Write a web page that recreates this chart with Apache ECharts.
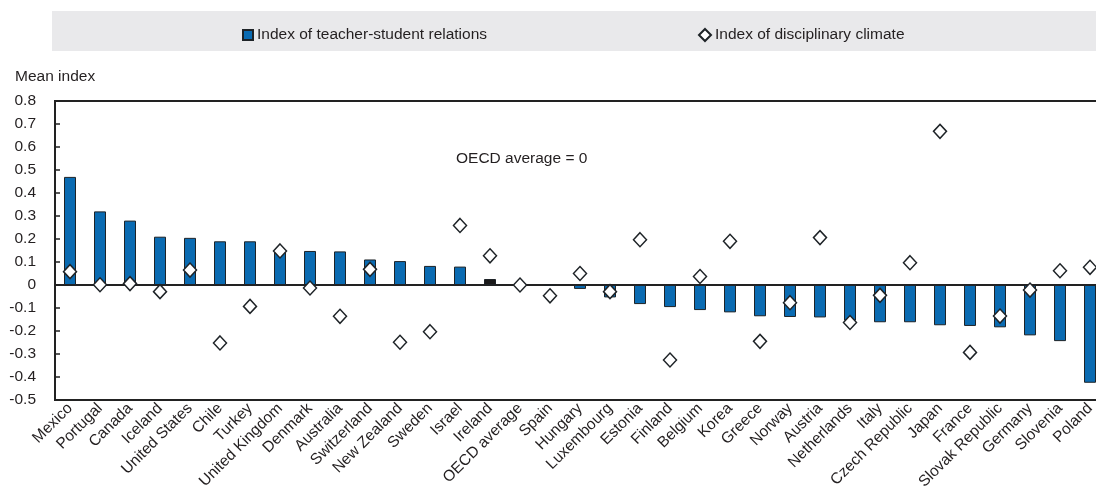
<!DOCTYPE html>
<html>
<head>
<meta charset="utf-8">
<script src="https://cdn.jsdelivr.net/npm/echarts@6/dist/echarts.min.js"></script>
<style>
  html, body { margin: 0; padding: 0; background: #fff; }
  #show_picture { width: 1096px; height: 498px; }
</style>
</head>
<body>
<div id="show_picture"></div>
<script>
// categories, left to right
const countries = ['Mexico', 'Portugal', 'Canada', 'Iceland', 'United States', 'Chile', 'Turkey',
    'United Kingdom', 'Denmark', 'Australia', 'Switzerland', 'New Zealand', 'Sweden', 'Israel',
    'Ireland', 'OECD average', 'Spain', 'Hungary', 'Luxembourg', 'Estonia', 'Finland', 'Belgium',
    'Korea', 'Greece', 'Norway', 'Austria', 'Netherlands', 'Italy', 'Czech Republic', 'Japan',
    'France', 'Slovak Republic', 'Germany', 'Slovenia', 'Poland'];

// bars: index of teacher-student relations
const relations = [0.47, 0.32, 0.28, 0.21, 0.205, 0.19, 0.19, 0.145, 0.148, 0.146, 0.111,
    0.104, 0.083, 0.080, 0.026, 0, -0.003, -0.017, -0.054, -0.083, -0.096, -0.109, -0.119,
    -0.136, -0.139, -0.141, -0.155, -0.162, -0.162, -0.175, -0.178, -0.184, -0.219, -0.244, -0.425];

// diamonds: index of disciplinary climate
const climate = [0.058, 0.001, 0.006, -0.029, 0.065, -0.252, -0.093, 0.148, -0.013, -0.136, 0.068,
    -0.249, -0.203, 0.259, 0.127, 0, -0.047, 0.05, -0.029, 0.197, -0.326, 0.037, 0.19,
    -0.245, -0.077, 0.206, -0.163, -0.045, 0.097, 0.668, -0.293, -0.135, -0.022, 0.062, 0.077];

const blackBar = 'Ireland';

const font = '"Liberation Sans", Arial, sans-serif';
const fs = 15.5;
const txt = '#231f20';

let myChart = echarts.init(document.getElementById('show_picture'));

let barData = relations.map((v, i) => ({
    value: v,
    itemStyle: countries[i] === blackBar ? { color: '#1a1a1a' } : undefined
}));

let option = {
    animation: false,
    textStyle: { fontFamily: font, color: txt },
    title: {
        text: 'Mean index',
        left: 10, top: 64,
        textStyle: { fontFamily: font, fontSize: fs, fontWeight: 'normal', color: txt }
    },
    graphic: [
        { type: 'rect', left: 52, top: 11, z: -10,
          shape: { width: 1044, height: 40 }, style: { fill: '#e9e9eb' } },
        { type: 'text', left: 456, top: 151,
          style: { text: 'OECD average = 0', fontFamily: font, fontSize: fs, fill: txt } }
    ],
    legend: [
        {
            data: ['Index of teacher-student relations'],
            left: 237, top: 22, itemWidth: 10, itemHeight: 10, itemGap: 4,
            icon: 'rect',
            textStyle: { fontFamily: font, fontSize: fs, color: txt, padding: [0, 0, 0, -1] }
        },
        {
            data: ['Index of disciplinary climate'],
            left: 693, top: 22, itemWidth: 12, itemHeight: 12, itemGap: 4,
            textStyle: { fontFamily: font, fontSize: fs, color: txt, padding: [0, 0, 0, -1] }
        }
    ],
    grid: {
        left: 55, top: 101, width: 1050, height: 299,
        outerBoundsMode: 'none',
        show: true, borderColor: '#222', borderWidth: 2, backgroundColor: 'transparent'
    },
    xAxis: [
        {
            type: 'category',
            data: countries,
            position: 'bottom',
            axisLine: { show: false, onZero: false },
            axisTick: { show: false },
            axisLabel: {
                interval: 0, rotate: 45, margin: 6,
                fontFamily: font, fontSize: fs, color: txt
            }
        },
        {
            type: 'category',
            data: countries,
            position: 'bottom',
            axisLine: { onZero: true, lineStyle: { color: '#222', width: 2 } },
            axisTick: { inside: true, length: 6, interval: 0, lineStyle: { color: '#222', width: 1.5 } },
            axisLabel: { show: false }
        }
    ],
    yAxis: {
        type: 'value',
        min: -0.5, max: 0.8, interval: 0.1,
        axisLine: { show: true, lineStyle: { color: '#222', width: 2 } },
        axisTick: { show: true, inside: true, length: 5, lineStyle: { color: '#222', width: 1.5 } },
        splitLine: { show: false },
        axisLabel: {
            margin: 19, fontFamily: font, fontSize: fs, color: txt,
            formatter: v => String(+v.toFixed(1))
        }
    },
    series: [
        {
            name: 'Index of teacher-student relations',
            type: 'bar',
            data: barData,
            barWidth: 12,
            itemStyle: { color: '#0a6bb2', borderColor: '#1e2327', borderWidth: 1 }
        },
        {
            name: 'Index of disciplinary climate',
            type: 'scatter',
            data: climate,
            symbol: 'diamond',
            symbolSize: [13, 14],
            z: 5,
            itemStyle: { color: '#fff', borderColor: '#1e2327', borderWidth: 1.5, opacity: 1 }
        }
    ]
};

option && myChart.setOption(option);
</script>
</body>
</html>
